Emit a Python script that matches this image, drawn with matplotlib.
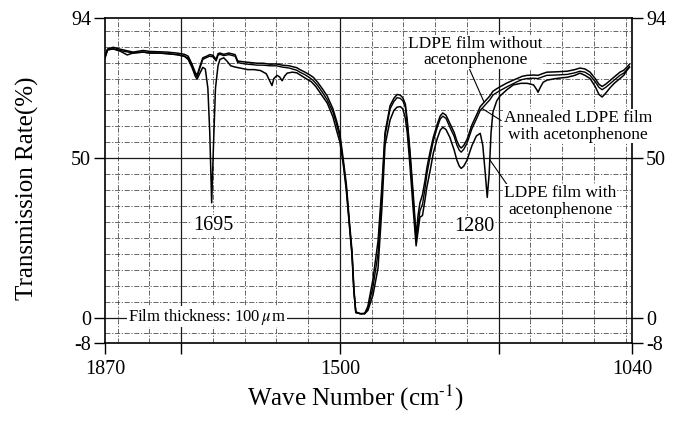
import matplotlib
matplotlib.use('Agg')
import matplotlib.pyplot as plt

# ---------------- data ----------------
wn_ab = [1870, 1866, 1857, 1846, 1826, 1810, 1799, 1785, 1772, 1757, 1745, 1739, 1733, 1728,
         1725, 1721, 1716, 1710, 1705, 1700, 1695, 1692, 1689, 1683, 1675, 1665, 1661, 1650,
         1640, 1630, 1621, 1610, 1600, 1591, 1580, 1568, 1563, 1555, 1548, 1542, 1535, 1527,
         1520, 1511, 1505, 1500, 1495, 1490, 1485, 1481, 1478, 1475, 1468, 1461, 1456, 1448,
         1440, 1434, 1429, 1421, 1415, 1410, 1405, 1401, 1397, 1394, 1390, 1385, 1380, 1377,
         1374, 1370, 1366, 1363, 1358, 1353, 1347, 1342, 1338, 1333, 1327, 1320, 1316, 1312,
         1309, 1305, 1300, 1292, 1285, 1279, 1270, 1264, 1259, 1253, 1248, 1237, 1227, 1221,
         1213, 1205, 1195, 1188, 1180, 1174, 1160, 1142, 1130, 1122, 1114, 1106, 1098, 1092,
         1087, 1081, 1075, 1068, 1059, 1053, 1048, 1044]

trans_without = [82.0, 84.3, 84.8, 84.2, 83.3, 83.8, 83.5, 83.4, 83.3, 83.0, 82.6, 82.0, 79.5, 77.0,
                 76.0, 78.5, 81.5, 82.0, 82.5, 82.3, 81.0, 82.8, 83.0, 82.6, 83.0, 82.5, 80.5, 80.2,
                 80.0, 79.8, 79.8, 79.5, 79.6, 79.2, 79.0, 78.4, 77.8, 77.0, 76.2, 75.4, 73.8, 71.6,
                 69.5, 65.5, 61.5, 57.5, 50.0, 42.0, 30.0, 21.0, 9.0, 1.8, 1.2, 1.3, 3.5, 12.0,
                 24.0, 41.0, 58.0, 66.5, 68.8, 70.0, 69.8, 69.0, 67.0, 62.0, 53.0, 40.0, 25.5, 32.0,
                 36.0, 38.5, 43.0, 47.0, 52.0, 56.5, 60.5, 63.3, 64.2, 63.5, 61.0, 58.0, 55.5, 53.8,
                 53.2, 54.0, 55.8, 60.5, 63.5, 66.2, 68.2, 69.5, 71.0, 71.8, 72.4, 73.6, 74.5, 75.0,
                 75.7, 76.0, 76.1, 76.0, 76.6, 77.0, 77.1, 77.3, 77.8, 78.3, 78.0, 77.0, 75.0, 73.2,
                 72.5, 73.3, 74.3, 75.5, 77.0, 77.6, 78.6, 79.5]

trans_annealed = [81.5, 84.0, 84.3, 83.8, 83.0, 83.3, 83.0, 83.0, 82.8, 82.5, 82.0, 81.4, 79.0, 76.5,
                  75.5, 78.0, 81.0, 81.6, 82.0, 81.8, 80.5, 82.3, 82.6, 82.2, 82.5, 82.0, 80.0, 79.6,
                  79.4, 79.2, 79.2, 79.0, 79.0, 78.6, 78.3, 77.6, 77.0, 76.2, 75.3, 74.4, 72.8, 70.5,
                  68.3, 64.5, 60.5, 56.5, 49.0, 41.0, 29.0, 20.0, 8.5, 1.6, 1.2, 1.2, 2.8, 9.5,
                  20.0, 38.5, 57.0, 65.5, 67.8, 69.0, 68.8, 68.0, 66.0, 61.0, 52.0, 38.5, 24.0, 29.0,
                  33.5, 35.5, 40.5, 45.0, 50.5, 55.3, 59.5, 62.3, 63.2, 62.5, 59.8, 56.8, 54.2, 52.5,
                  51.9, 52.8, 54.6, 59.3, 62.3, 65.0, 67.0, 68.3, 69.8, 70.6, 71.2, 72.4, 73.4, 74.0,
                  74.7, 75.0, 75.1, 75.0, 75.6, 76.0, 76.1, 76.3, 76.8, 77.3, 77.0, 76.0, 74.0, 72.2,
                  71.5, 72.3, 73.3, 74.5, 76.0, 76.7, 77.8, 78.8]

wn_with = [1870, 1866, 1857, 1846, 1835, 1826, 1810, 1799, 1785, 1772, 1757, 1745, 1739, 1733,
           1728, 1725, 1721, 1716, 1712, 1708, 1705, 1702, 1699, 1696, 1692, 1689, 1683, 1678,
           1672, 1665, 1655, 1645, 1635, 1625, 1616, 1610, 1607, 1604, 1599, 1595, 1591, 1587,
           1583, 1575, 1568, 1560, 1552, 1545, 1538, 1530, 1520, 1511, 1505, 1500, 1495, 1490,
           1485, 1481, 1478, 1475, 1468, 1461, 1456, 1448, 1440, 1434, 1429, 1421, 1415, 1410,
           1405, 1401, 1397, 1394, 1390, 1385, 1380, 1377, 1374, 1370, 1366, 1363, 1358, 1353,
           1347, 1342, 1338, 1333, 1327, 1320, 1316, 1312, 1309, 1305, 1300, 1292, 1285, 1279,
           1275, 1271, 1268, 1265, 1262, 1259, 1253, 1248, 1237, 1227, 1215, 1205, 1195, 1190,
           1188, 1185, 1180, 1174, 1160, 1142, 1130, 1122, 1114, 1106, 1098, 1092, 1087, 1081,
           1075, 1068, 1059, 1053, 1048, 1044]

trans_with = [81.5, 84.0, 84.3, 83.6, 82.4, 83.0, 83.3, 83.0, 83.0, 82.8, 82.5, 82.0, 81.0, 78.5,
              75.8, 74.8, 76.5, 78.5, 78.0, 72.0, 58.0, 36.0, 55.0, 72.0, 79.0, 81.0, 81.5, 80.5,
              79.0, 78.6, 78.2, 77.8, 77.8, 77.5, 76.5, 74.0, 72.8, 75.0, 76.0, 75.5, 74.3, 75.8,
              76.7, 77.0, 76.8, 75.8, 74.8, 74.0, 72.5, 70.2, 67.3, 63.0, 58.5, 55.0, 48.5, 40.0,
              28.5, 19.5, 8.0, 1.5, 1.2, 1.2, 2.2, 7.0, 15.5, 34.0, 54.0, 62.0, 65.0, 66.0,
              66.2, 65.5, 62.5, 58.0, 48.5, 35.0, 22.5, 27.0, 31.5, 32.0, 37.0, 41.0, 46.0, 51.5,
              56.0, 58.8, 59.7, 59.0, 56.6, 52.5, 49.5, 47.5, 46.8, 47.5, 49.3, 54.0, 57.0, 57.8,
              54.0, 45.0, 37.7, 45.0, 58.0, 64.5, 68.0, 69.5, 71.5, 73.0, 73.5, 73.5, 73.0, 71.5,
              70.7, 72.0, 73.8, 74.5, 75.0, 75.4, 76.0, 76.7, 76.0, 75.0, 72.5, 70.0, 69.2, 70.5,
              72.0, 73.5, 75.0, 76.0, 77.6, 78.5]

x_ticks = [1870, 1750, 1500, 1250, 1040]
x_tick_labels = ['1870', '', '1500', '', '1040']
y_ticks = [94, 50, 0, -8]
y_tick_labels = ['94', '50', '0', '-8']
grid_x_dashed = [1850, 1800, 1700, 1650, 1600, 1550, 1450, 1400, 1350, 1300, 1200, 1150, 1100, 1050]
grid_x_solid = [1750, 1500, 1250]
grid_y_dashed = [-5, 5, 10, 15, 20, 25, 30, 35, 40, 45, 55, 60, 65, 70, 75, 80, 85, 90]
grid_y_solid = [0, 50]

# ---------------- style ----------------
plt.rcParams['font.family'] = ['Liberation Serif', 'DejaVu Serif']
plt.rcParams['mathtext.fontset'] = 'stix'

W, H = 675, 428
fig = plt.figure(figsize=(W / 100, H / 100), dpi=100)
L, R, T, B = 105, 632, 18, 343
ax = fig.add_axes([L / W, 1 - B / H, (R - L) / W, (B - T) / H])
ax.set_xlim(1870, 1040)
ax.set_ylim(-8, 94)

dash = (0, (6, 2, 1.5, 2))
for gx in grid_x_dashed:
    ax.axvline(gx, color='0.3', lw=0.6, ls=dash, zorder=1)
for gx in grid_x_solid:
    ax.axvline(gx, color='0.1', lw=0.9, zorder=1)
for gy in grid_y_dashed:
    ax.axhline(gy, color='0.3', lw=0.6, ls=dash, zorder=1)
for gy in grid_y_solid:
    ax.axhline(gy, color='0.1', lw=0.9, zorder=1)

ax.plot(wn_ab, trans_without, color='black', lw=1.1, zorder=3)
ax.plot(wn_ab, trans_annealed, color='black', lw=1.0, zorder=3)
ax.plot(wn_with, trans_with, color='black', lw=1.1, zorder=3)

for s in ax.spines.values():
    s.set_linewidth(1.2)
    s.set_color('black')

ax.set_xticks(x_ticks)
ax.set_xticklabels(x_tick_labels)
ax.set_yticks(y_ticks)
ax.set_yticklabels(y_tick_labels)
ax.tick_params(axis='both', direction='out', length=8, width=1.0, labelsize=14.5, pad=2,
               right=True, labelright=True)
ax.tick_params(axis='x', pad=4)

bb = dict(facecolor='white', edgecolor='none', pad=0.5)
txt_kw = dict(ha='center', va='center', fontsize=12.5, zorder=6, bbox=bb,
              linespacing=1.05, clip_on=False)
ax.text(1287, 83.3, 'LDPE film without\nacetonphenone', **txt_kw)
ax.text(1125, 60.0, 'Annealed LDPE film\nwith acetonphenone', **txt_kw)
ax.text(1153, 36.5, 'LDPE film with\nacetonphenone', **txt_kw)
ax.text(1700, 28.9, '1695', ha='center', va='center', fontsize=14.5, zorder=6, bbox=bb)
ax.text(1289, 28.6, '1280', ha='center', va='center', fontsize=14.5, zorder=6, bbox=bb)
ax.text(1709, 0.3, r'Film thickness: 100$\,\mu\,$m', ha='center', va='center',
        fontsize=12, zorder=6, bbox=bb)

lk = dict(arrowstyle='-', lw=0.8, color='black', shrinkA=0, shrinkB=0)
ax.annotate('', xy=(1273, 67.6), xytext=(1298, 78.9), arrowprops=lk, zorder=5)
ax.annotate('', xy=(1276, 65.6), xytext=(1246, 61.8), arrowprops=lk, zorder=5)
ax.annotate('', xy=(1264, 49.5), xytext=(1235, 41.2), arrowprops=lk, zorder=5)

fig.text(355 / W, 1 - 398 / H, r'Wave Number (cm$^{\text{-1}}$)', ha='center', va='center',
         fontsize=18)
fig.text(27 / W, 1 - 188 / H, 'Transmission Rate(%)', ha='center', va='center',
         rotation=90, fontsize=18)

fig.savefig('out.png', dpi=100)
